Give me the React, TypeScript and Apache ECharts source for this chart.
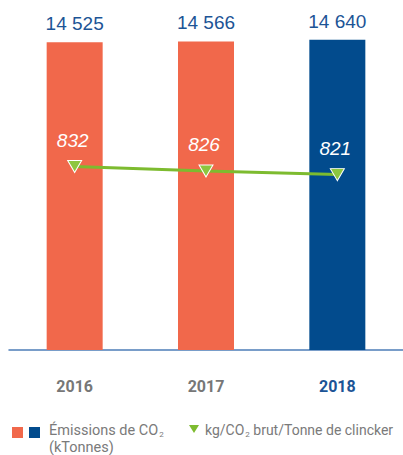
import React, { useEffect, useRef } from "react";
import * as echarts from "echarts";

const categories = ["2016", "2017", "2018"];
const emissions = [14525, 14566, 14640];
const intensity = [832, 826, 821];
const barColors = ["#f1684b", "#f1684b", "#024b8d"];
const labelColors = ["#777777", "#777777", "#1c5496"];

export default function App() {
  const ref = useRef<HTMLDivElement>(null);
  useEffect(() => {
    const chart = echarts.init(ref.current!, null, { renderer: "svg" });
    const legendFont = "Roboto, sans-serif";
    chart.setOption({
      animation: false,
      grid: { left: 9, right: -3, top: 11, bottom: 105, containLabel: false },
      xAxis: {
        type: "category",
        data: categories,
        axisLine: { lineStyle: { color: "#4d7db8", width: 1.5 } },
        axisTick: { show: false },
        axisLabel: {
          margin: 28,
          formatter: (v: string, i: number) => (i === 2 ? `{b|${v}}` : `{g|${v}}`),
          rich: {
            g: { color: labelColors[0], fontSize: 16, fontWeight: "bold", fontFamily: "Roboto, sans-serif" },
            b: { color: labelColors[2], fontSize: 16, fontWeight: "bold", fontFamily: "Roboto, sans-serif" },
          },
        },
      },
      yAxis: [
        { type: "value", min: 0, max: 16000, show: false, splitLine: { show: false } },
        { type: "value", min: 583, max: 1043, show: false, splitLine: { show: false } },
      ],
      series: [
        {
          type: "bar",
          barWidth: 56,
          data: emissions.map((v, i) => ({ value: v, itemStyle: { color: barColors[i] } })),
          label: {
            show: true,
            position: "top",
            distance: 9,
            color: "#1c5496",
            fontSize: 19,
            fontFamily: "'Liberation Sans', Arial, sans-serif",
            formatter: (p: any) => {
              const s = String(p.value);
              return s.slice(0, s.length - 3) + " " + s.slice(-3);
            },
          },
        },
        {
          type: "line",
          yAxisIndex: 1,
          data: intensity,
          symbol: "triangle",
          symbolRotate: 180,
          symbolSize: [14, 12],
          itemStyle: { color: "#8cc63f", borderColor: "#ffffff", borderWidth: 1 },
          lineStyle: { color: "#7dbb2f", width: 3 },
          label: {
            show: true,
            position: "top",
            distance: 10,
            offset: [-2, 0],
            color: "#ffffff",
            fontSize: 19,
            fontStyle: "italic",
            fontFamily: "'Liberation Sans', Arial, sans-serif",
          },
        },
      ],
      graphic: [
        { type: "rect", left: 12, top: 427, shape: { width: 11, height: 11 }, style: { fill: barColors[0] } },
        { type: "rect", left: 29, top: 427, shape: { width: 11, height: 11 }, style: { fill: barColors[2] } },
        {
          type: "text",
          left: 49,
          top: 423,
          style: {
            text: "{a|Émissions de CO}{s|2}\n{a|(kTonnes)}",
            rich: {
              a: { fontSize: 14.5, fill: "#7a7a7a", fontFamily: legendFont, lineHeight: 17 },
              s: { fontSize: 8, fill: "#7a7a7a", fontFamily: legendFont, padding: [8, 0, 0, 1] },
            },
          },
        },
        {
          type: "polygon",
          shape: { points: [[189, 425], [199, 425], [194, 433]] },
          style: { fill: "#7dbb2f" },
        },
        {
          type: "text",
          left: 205,
          top: 423,
          style: {
            text: "{a|kg/CO}{s|2}{a| brut/Tonne de clincker}",
            rich: {
              a: { fontSize: 14, fill: "#7a7a7a", fontFamily: legendFont, lineHeight: 17 },
              s: { fontSize: 8, fill: "#7a7a7a", fontFamily: legendFont, padding: [8, 0, 0, 1] },
            },
          },
        },
      ],
    });
    return () => chart.dispose();
  }, []);
  return <div ref={ref} style={{ position: "absolute", left: 0, top: 0, width: 403, height: 455 }} />;
}
